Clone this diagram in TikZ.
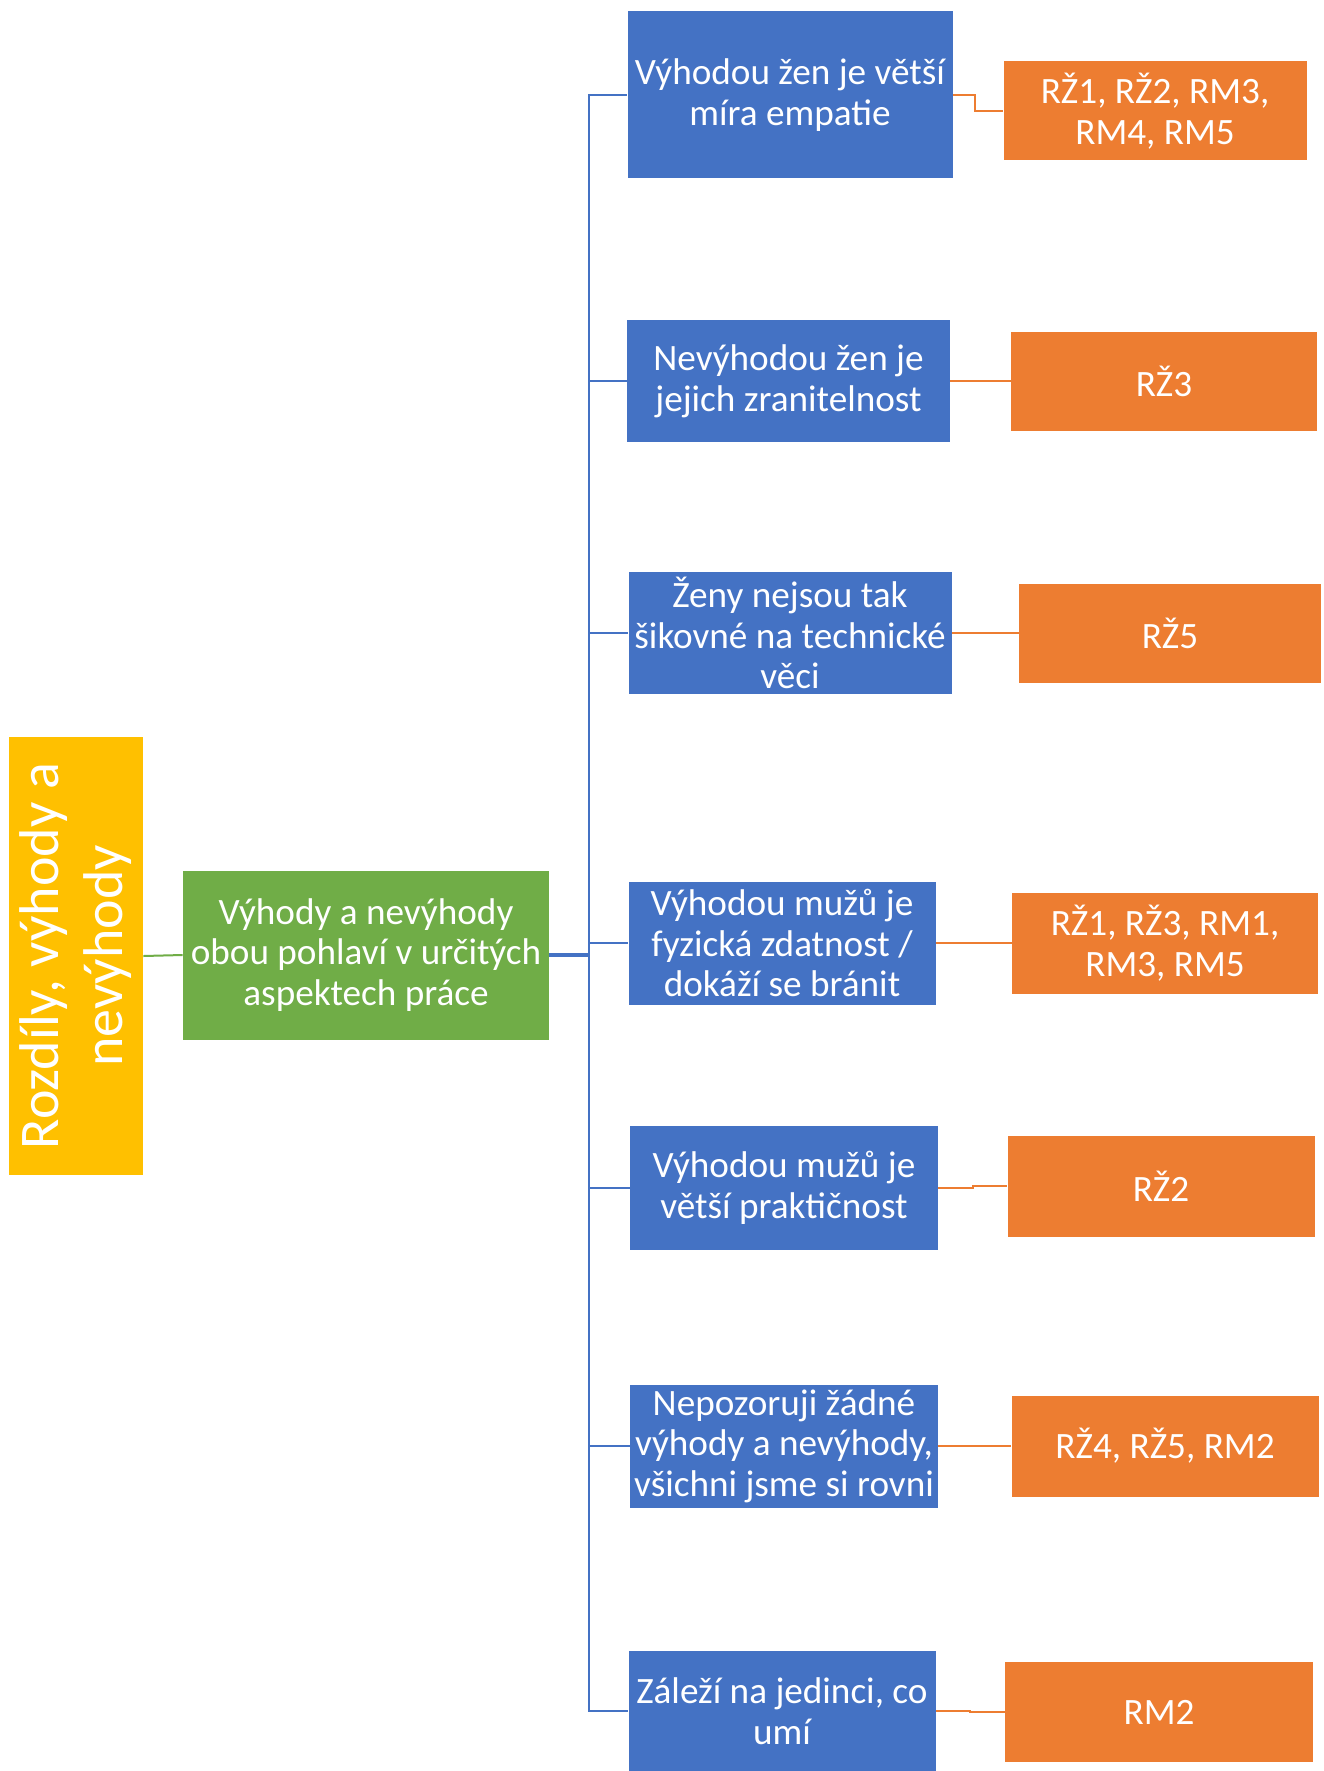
\documentclass[tikz,border=0pt]{standalone}
\usepackage{fontspec}
\setmainfont{Carlito}
\usetikzlibrary{calc}
\definecolor{cblue}{HTML}{4472C4}
\definecolor{corange}{HTML}{ED7D31}
\definecolor{cgreen}{HTML}{70AD47}
\definecolor{cyellow}{HTML}{FFC000}
\begin{document}
\begin{tikzpicture}[x=0.5pt,y=-0.5pt,
  box/.style={draw=none, inner sep=0pt, align=center, text=white, font=\fontsize{18.6}{20.3}\selectfont},
  bluebox/.style={box, fill=cblue},
  orbox/.style={box, fill=corange},
  greenbox/.style={box, fill=cgreen},
  yelbox/.style={box, fill=cyellow, font=\fontsize{28}{32}\selectfont},
  busline/.style={draw=cblue, line width=1.3pt},
  orline/.style={draw=corange, line width=1pt},
  grline/.style={draw=cgreen, line width=1pt}]
\useasboundingbox (0,0) rectangle (1323,1771);
\fill[white] (0,0) rectangle (1323,1771);

\node[yelbox, rotate=90, minimum width=219pt, minimum height=67pt] (yel) at (76,956) {Rozdíly, výhody a\\nevýhody};
\node[greenbox, minimum width=183pt, minimum height=84.5pt] (grn) at (366,955) {Výhody a nevýhody\\obou pohlaví v určitých\\aspektech práce};

\node[bluebox, minimum width=162.5pt, minimum height=83.5pt] (b1) at (790,95) {Výhodou žen je větší\\míra empatie};
\node[bluebox, minimum width=161.5pt, minimum height=61pt] (b2) at (788.5,381) {Nevýhodou žen je\\jejich zranitelnost};
\node[bluebox, minimum width=161.5pt, minimum height=61pt] (b3) at (790,633) {Ženy nejsou tak\\šikovné na technické\\věci};
\node[bluebox, minimum width=153.5pt, minimum height=61.5pt] (b4) at (782,943) {Výhodou mužů je\\fyzická zdatnost /\\dokáží se bránit};
\node[bluebox, minimum width=154pt, minimum height=62pt] (b5) at (784,1188) {Výhodou mužů je\\větší praktičnost};
\node[bluebox, minimum width=154pt, minimum height=61.5pt] (b6) at (784,1446) {Nepozoruji žádné\\výhody a nevýhody,\\všichni jsme si rovni};
\node[bluebox, minimum width=153.5pt, minimum height=60pt] (b7) at (782,1711) {Záleží na jedinci, co\\umí};

\node[orbox, minimum width=151.5pt, minimum height=49.5pt] (o1) at (1155,111) {RŽ1, RŽ2, RM3,\\RM4, RM5};
\node[orbox, minimum width=153pt, minimum height=49.5pt] (o2) at (1164,381) {RŽ3};
\node[orbox, minimum width=151pt, minimum height=49.5pt] (o3) at (1170,633) {RŽ5};
\node[orbox, minimum width=153pt, minimum height=50.5pt] (o4) at (1165,943) {RŽ1, RŽ3, RM1,\\RM3, RM5};
\node[orbox, minimum width=153.5pt, minimum height=50.5pt] (o5) at (1161,1186) {RŽ2};
\node[orbox, minimum width=153.5pt, minimum height=50.5pt] (o6) at (1165,1446) {RŽ4, RŽ5, RM2};
\node[orbox, minimum width=154pt, minimum height=50pt] (o7) at (1159,1712) {RM2};

\coordinate (bus) at (589,955);
\draw[grline] (yel.south) -- (grn.west);
\draw[busline, line width=2pt] (grn.east) -- (bus);
\foreach \i in {1,...,7}{
  \draw[busline] (bus) |- (b\i.west);
}
\draw[orline] (b1.east) -- ++(22,0) |- (o1.west);
\foreach \i in {2,...,7}{
  \draw[orline] (b\i.east) -| ($(b\i.east)!0.5!(o\i.west)$) |- (o\i.west);
}
\end{tikzpicture}
\end{document}
